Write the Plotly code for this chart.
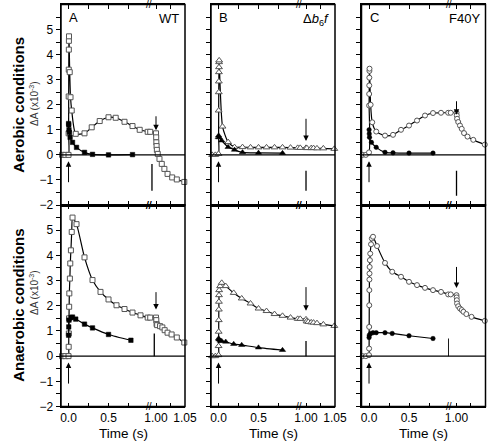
import plotly.graph_objects as go

# ---------------- data (time in s, dA in 1e-3) ----------------
# Panel A (WT), aerobic
A_aer_open_t = [-0.08, -0.04, 0.0, 0.001, 0.002, 0.003, 0.004, 0.005, 0.006, 0.015, 0.025, 0.04, 0.09, 0.2, 0.29, 0.39, 0.5, 0.59, 0.7, 0.8, 0.89, 0.99,
                1.0, 1.0003, 1.0006, 1.001, 1.0015, 1.003, 1.006, 1.010, 1.0145, 1.02, 1.028, 1.036, 1.049]
A_aer_open_v = [0, 0, 0, 0.86, 2.33, 3.4, 4.2, 4.55, 4.73, 3.3, 2.3, 1.77, 0.84, 0.86, 1.1, 1.35, 1.5, 1.48, 1.32, 1.15, 1.0, 0.92,
                0.86, 0.7, 0.5, 0.35, 0.2, 0.04, -0.16, -0.36, -0.56, -0.76, -0.9, -0.98, -1.08]
A_aer_closed_t = [0.001, 0.003, 0.006, 0.01, 0.02, 0.05, 0.1, 0.2, 0.3, 0.5, 0.8]
A_aer_closed_v = [1.25, 1.2, 1.0, 0.9, 0.7, 0.5, 0.3, 0.1, 0.02, 0.0, 0.01]

# Panel B (delta b6f), aerobic
B_aer_open_t = [-0.08, -0.04, 0.0, 0.001, 0.002, 0.003, 0.004, 0.005, 0.006, 0.007, 0.008, 0.05, 0.12, 0.2, 0.3, 0.4, 0.5, 0.6, 0.7, 0.8, 0.9, 0.99,
                1.0, 1.0015, 1.009, 1.013, 1.019, 1.03, 1.049]
B_aer_open_v = [0, 0, 0.04, 0.71, 1.77, 2.5, 2.93, 3.3, 3.5, 3.7, 3.77, 1.13, 0.51, 0.31, 0.31, 0.3, 0.3, 0.3, 0.3, 0.3, 0.29, 0.28,
                0.28, 0.27, 0.27, 0.27, 0.26, 0.26, 0.24]
B_aer_closed_t = [0.001, 0.005, 0.04, 0.12, 0.2, 0.3, 0.5, 0.8]
B_aer_closed_v = [0.77, 0.7, 0.57, 0.31, 0.2, 0.1, 0.08, 0.07]

# Panel C (F40Y), aerobic
C_aer_open_t = [-0.08, -0.04, 0.0, 0.001, 0.002, 0.003, 0.004, 0.005, 0.006, 0.02, 0.04, 0.09, 0.2, 0.3, 0.4, 0.5, 0.6, 0.7, 0.8, 0.9, 0.99,
                1.0, 1.0005, 1.001, 1.003, 1.006, 1.009, 1.013, 1.019, 1.029, 1.049]
C_aer_open_v = [0, 0, 0.1, 1.97, 2.43, 2.77, 3.08, 3.35, 3.44, 2.0, 1.3, 0.93, 0.77, 0.8, 1.0, 1.17, 1.37, 1.57, 1.67, 1.68, 1.68,
                1.68, 1.57, 1.44, 1.31, 1.17, 1.04, 0.87, 0.73, 0.6, 0.41]
C_aer_closed_t = [0.001, 0.003, 0.006, 0.03, 0.09, 0.2, 0.3, 0.5, 0.8]
C_aer_closed_v = [1.0, 0.84, 0.7, 0.5, 0.3, 0.1, 0.08, 0.07, 0.07]

# Panel A (WT), anaerobic
A_ana_open_t = [-0.08, -0.04, 0.0, 0.002, 0.004, 0.006, 0.008, 0.01, 0.017, 0.022, 0.03, 0.04, 0.05, 0.1, 0.2, 0.3, 0.4, 0.5, 0.6, 0.7, 0.8, 0.9, 0.99,
                1.0, 1.0005, 1.001, 1.002, 1.007, 1.011, 1.015, 1.02, 1.027, 1.036, 1.049]
A_ana_open_v = [0, 0, 0, 0.37, 0.9, 1.5, 1.96, 2.49, 3.08, 3.68, 4.2, 4.93, 5.5, 5.24, 3.92, 3.02, 2.55, 2.25, 2.02, 1.87, 1.73, 1.62, 1.53,
                1.53, 1.43, 1.27, 1.23, 1.19, 1.14, 1.03, 0.93, 0.86, 0.74, 0.54]
A_ana_closed_t = [0.001, 0.003, 0.006, 0.03, 0.05, 0.09, 0.2, 0.3, 0.5, 0.78]
A_ana_closed_v = [0.83, 1.16, 1.43, 1.53, 1.55, 1.47, 1.27, 1.12, 0.86, 0.63]

# Panel B (delta b6f), anaerobic
B_ana_open_t = [-0.08, -0.04, 0.0, 0.001, 0.002, 0.003, 0.004, 0.005, 0.006, 0.008, 0.02, 0.04, 0.09, 0.19, 0.29, 0.4, 0.5, 0.6, 0.7, 0.8, 0.9, 0.99,
                1.0, 1.001, 1.004, 1.009, 1.013, 1.019, 1.03, 1.049]
B_ana_open_v = [0, 0, 0.04, 0.4, 0.97, 1.43, 1.85, 2.16, 2.42, 2.62, 2.78, 2.91, 2.78, 2.51, 2.29, 2.09, 1.89, 1.79, 1.67, 1.6, 1.53, 1.48,
                1.46, 1.38, 1.36, 1.34, 1.33, 1.31, 1.26, 1.2]
B_ana_closed_t = [0.001, 0.005, 0.02, 0.04, 0.09, 0.19, 0.29, 0.5, 0.8]
B_ana_closed_v = [0.7, 0.66, 0.61, 0.6, 0.57, 0.48, 0.44, 0.34, 0.24]

# Panel C (F40Y), anaerobic
C_ana_open_t = [-0.08, -0.04, 0.0, 0.001, 0.002, 0.003, 0.004, 0.005, 0.006, 0.008, 0.011, 0.015, 0.025, 0.035, 0.05, 0.1, 0.2, 0.29, 0.4, 0.5, 0.6, 0.7, 0.8, 0.9, 0.99,
                1.0, 1.0003, 1.0006, 1.001, 1.003, 1.006, 1.009, 1.012, 1.017, 1.026, 1.049]
C_ana_open_v = [0, 0, 0.04, 0.3, 1.16, 2.02, 2.62, 3.04, 3.28, 3.54, 3.81, 4.07, 4.44, 4.67, 4.74, 4.37, 3.7, 3.35, 3.15, 2.95, 2.82, 2.71, 2.62, 2.55, 2.45,
                2.42, 2.33, 2.22, 2.09, 1.98, 1.89, 1.83, 1.76, 1.67, 1.56, 1.4]
C_ana_closed_t = [0.001, 0.003, 0.02, 0.05, 0.09, 0.2, 0.29, 0.5, 0.8]
C_ana_closed_v = [0.74, 0.83, 0.9, 0.93, 0.93, 0.93, 0.9, 0.81, 0.7]

panel_letters = ["A", "B", "C"]
strain_labels = ["WT", "Δ<i>b</i><sub>6</sub><i>f</i>", "F40Y"]
row_labels = ["Aerobic conditions", "Anaerobic conditions"]
marker_shapes = ["square", "triangle-up", "circle"]
left_ticks = [0, 0.5]
left_ticktext = ["0.0", "0.5"]
right_ticks = [1.0, 1.05]
right_ticktext = ["1.00", "1.05"]
y_ticks = [-2, -1, 0, 1, 2, 3, 4, 5]

# arrows / marker lines: (down-arrow tail, head), vertical bar (x, y0, y1, axis side)
down_arrows = [[(1.6, 0.98), (1.5, 0.55), (2.2, 1.6)],
               [(2.6, 1.85), (2.8, 1.8), (3.6, 2.7)]]
bars = [[(0.993, -0.36, -1.43, "R"), (1.0, -0.63, -1.43, "R"), (1.0, -0.63, -1.63, "R")],
        [(0.997, 0.0, 0.9, "R"), (1.0, 0.0, 0.6, "R"), (0.997, 0.0, 0.7, "L")]]

data = [
    [(A_aer_open_t, A_aer_open_v, A_aer_closed_t, A_aer_closed_v),
     (B_aer_open_t, B_aer_open_v, B_aer_closed_t, B_aer_closed_v),
     (C_aer_open_t, C_aer_open_v, C_aer_closed_t, C_aer_closed_v)],
    [(A_ana_open_t, A_ana_open_v, A_ana_closed_t, A_ana_closed_v),
     (B_ana_open_t, B_ana_open_v, B_ana_closed_t, B_ana_closed_v),
     (C_ana_open_t, C_ana_open_v, C_ana_closed_t, C_ana_closed_v)],
]

# ---------------- layout geometry ----------------
W, H = 496, 444
col_left = [61, 211, 361.5]
pw = 124.0
lw = 87.5
row_top = [4.5, 205.0]
row_bot = [205.0, 406.5]
L_RANGE = [-0.094, 1.0]
R_RANGE = [0.987, 1.0502]
FONT = "Arial, Liberation Sans, sans-serif"


def fx(p):
    return p / W


def fy(p):
    return 1 - p / H


fig = go.Figure()
layout = dict(width=W, height=H, margin=dict(l=0, r=0, t=0, b=0, autoexpand=False),
              paper_bgcolor="white", plot_bgcolor="white", showlegend=False,
              font=dict(family=FONT, color="black"))
shapes = []
annotations = []

for r in range(2):
    for c in range(3):
        idx = r * 3 + c
        nL, nR, ny = 2 * idx + 1, 2 * idx + 2, idx + 1
        xL = "x" if nL == 1 else f"x{nL}"
        xR = f"x{nR}"
        yy = "y" if ny == 1 else f"y{ny}"
        kL = "xaxis" if nL == 1 else f"xaxis{nL}"
        kR = f"xaxis{nR}"
        ky = "yaxis" if ny == 1 else f"yaxis{ny}"
        left = col_left[c]
        ydom = [fy(row_bot[r]), fy(row_top[r])]
        common_x = dict(ticks="inside", ticklen=4, tickwidth=1, tickcolor="black",
                        showline=True, linecolor="black", linewidth=1.5, mirror="ticks",
                        showgrid=False, zeroline=False, showticklabels=(r == 1),
                        tickfont=dict(size=12, family=FONT), anchor=yy, ticklabelstandoff=0,
                        automargin=False)
        layout[kL] = dict(domain=[fx(left), fx(left + lw)], range=L_RANGE,
                          tickmode="array", tickvals=left_ticks, ticktext=left_ticktext,
                          minor=dict(tickmode="array", tickvals=[0.25, 0.75], ticks="inside",
                                     ticklen=4, tickcolor="black"),
                          **common_x)
        layout[kR] = dict(domain=[fx(left + lw), fx(left + pw)], range=R_RANGE,
                          tickmode="array", tickvals=right_ticks, ticktext=right_ticktext,
                          minor=dict(tickmode="array", tickvals=[1.025], ticks="inside",
                                     ticklen=4, tickcolor="black"),
                          **common_x)
        layout[ky] = dict(domain=ydom, range=[-2, 6], anchor=xL, automargin=False,
                          tickmode="array", tickvals=y_ticks, ticks="outside", ticklen=4,
                          tickwidth=1, tickcolor="black", showline=True, linecolor="black",
                          linewidth=1.5, showgrid=False, zeroline=False,
                          showticklabels=(c == 0), tickfont=dict(size=12, family=FONT),
                          minor=dict(tickmode="array",
                                     tickvals=[v + 0.5 for v in range(-2, 6)],
                                     ticks="outside", ticklen=4, tickcolor="black"))

        ot, ov, ct, cv = data[r][c]
        sym = marker_shapes[c]
        msize = 5 if c != 1 else 6
        # open series split on the broken axis
        for xa, lo, hi in ((xL, -1, 0.995), (xR, 0.985, 2)):
            tt = [t for t in ot if lo <= t <= hi]
            vv = [v for t, v in zip(ot, ov) if lo <= t <= hi]
            fig.add_trace(go.Scatter(x=tt, y=vv, xaxis=xa, yaxis=yy, mode="lines+markers",
                                     line=dict(color="black", width=1.2, shape="spline", smoothing=0.6),
                                     marker=dict(symbol=sym, size=msize, color="white",
                                                 line=dict(color="#555555", width=1)),
                                     cliponaxis=False, hoverinfo="skip"))
        fig.add_trace(go.Scatter(x=ct, y=cv, xaxis=xL, yaxis=yy, mode="lines+markers",
                                 line=dict(color="black", width=1.2, shape="spline", smoothing=0.6),
                                 marker=dict(symbol=sym, size=msize - 0.5, color="black",
                                             line=dict(color="black", width=0.5)),
                                 cliponaxis=False, hoverinfo="skip"))

        # frame and zero line
        shapes.append(dict(type="rect", xref="paper", yref="paper",
                           x0=fx(left), x1=fx(left + pw), y0=ydom[0], y1=ydom[1],
                           line=dict(color="black", width=1.5), layer="above"))
        shapes.append(dict(type="line", xref="paper", yref=yy, x0=fx(left), x1=fx(left + pw),
                           y0=0, y1=0, line=dict(color="black", width=1.3)))
        # vertical bar
        bx, by0, by1, side = bars[r][c]
        shapes.append(dict(type="line", xref=(xR if side == "R" else xL), yref=yy,
                           x0=bx, x1=bx, y0=by0, y1=by1, line=dict(color="black", width=1.3)))
        # arrows
        annotations.append(dict(x=0, y=-0.25, xref=xL, yref=yy, ax=0, ay=-1.15, axref=xL, ayref=yy,
                                text="", showarrow=True, arrowhead=2, arrowsize=1.1, arrowwidth=1,
                                arrowcolor="black"))
        tail, head = down_arrows[r][c]
        annotations.append(dict(x=1.0, y=head, xref=xR, yref=yy, ax=1.0, ay=tail, axref=xR, ayref=yy,
                                text="", showarrow=True, arrowhead=2, arrowsize=1.1, arrowwidth=1,
                                arrowcolor="black"))
        # break marks
        for yb in (ydom[0], ydom[1]):
            annotations.append(dict(x=fx(left + lw), y=yb, xref="paper", yref="paper",
                                    text="//", showarrow=False, font=dict(size=10, family=FONT),
                                    xanchor="center", yanchor="middle"))
        # panel labels (top row only)
        if r == 0:
            annotations.append(dict(x=fx(left + 6), y=fy(row_top[0] + 4), xref="paper", yref="paper",
                                    text=panel_letters[c], showarrow=False, xanchor="left", yanchor="top",
                                    font=dict(size=13, family=FONT)))
            annotations.append(dict(x=fx(left + pw - 4), y=fy(row_top[0] + 5), xref="paper", yref="paper",
                                    text=strain_labels[c], showarrow=False, xanchor="right", yanchor="top",
                                    font=dict(size=13, family=FONT)))
        else:
            annotations.append(dict(x=fx(left + 62), y=fy(443), xref="paper", yref="paper",
                                    text="Time (s)", showarrow=False, xanchor="center", yanchor="bottom",
                                    font=dict(size=13.5, family=FONT)))

    # row labels and y titles
    yc = (row_top[r] + row_bot[r]) / 2
    annotations.append(dict(x=fx(19), y=fy(yc), xref="paper", yref="paper", text=f"<b>{row_labels[r]}</b>",
                            textangle=-90, showarrow=False, xanchor="center", yanchor="middle",
                            font=dict(size=15, family=FONT)))
    annotations.append(dict(x=fx(34), y=fy([104, 293][r]), xref="paper", yref="paper",
                            text="ΔA (x10<sup>-3</sup>)", textangle=-90, showarrow=False,
                            xanchor="center", yanchor="middle", font=dict(size=10, family=FONT, color="#333333")))

layout["shapes"] = shapes
layout["annotations"] = annotations
fig.update_layout(**layout)
fig.write_html("out.html", config={"displayModeBar": False, "staticPlot": True},
               post_script="document.body.style.margin='0';document.body.style.padding='0';")
